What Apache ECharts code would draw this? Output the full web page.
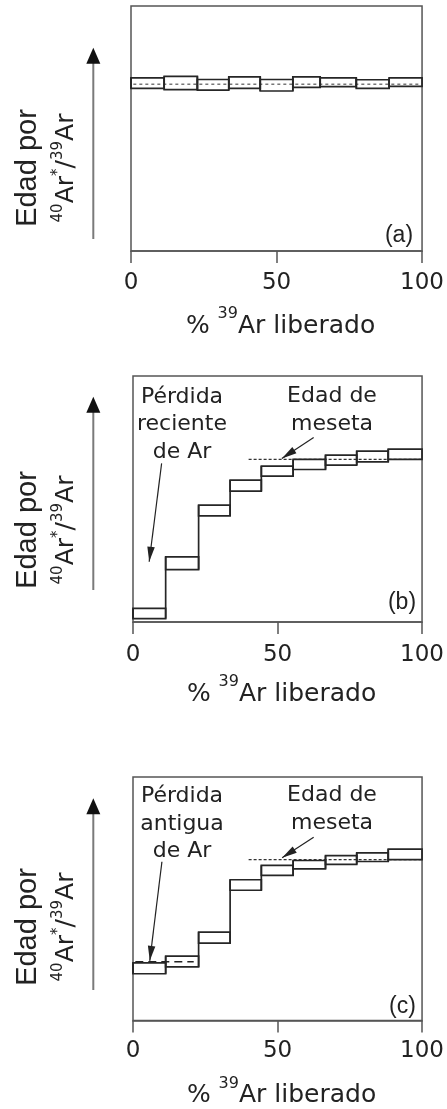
<!DOCTYPE html>
<html><head><meta charset="utf-8">
<script src="https://cdn.jsdelivr.net/npm/echarts/dist/echarts.min.js"></script>
<style>html,body{margin:0;padding:0;background:#fff}#c{width:447px;height:1109px}</style>
</head><body><div id="c"></div>
<script>
// ---- data (y is an arbitrary 0-100 age scale) ----
const edgesA = [0, 11.4, 22.8, 33.6, 44.4, 55.6, 65.0, 77.4, 88.7, 100];
const lowA   = [66.4, 65.9, 65.7, 66.4, 65.3, 66.8, 67.1, 66.4, 67.2];
const highA  = [70.7, 71.3, 70.0, 71.1, 70.0, 71.1, 70.7, 69.9, 70.7];
const plateauA = [[0.8, 68.1], [99.2, 68.1]];

const edgesB = [0, 11.3, 22.7, 33.6, 44.4, 55.4, 66.6, 77.4, 88.3, 100];
const lowB   = [1.4, 21.3, 43.1, 53.2, 59.3, 62.0, 63.8, 65.1, 66.1];
const highB  = [5.5, 26.5, 47.5, 57.7, 63.4, 66.1, 67.8, 69.5, 70.3];
const plateauB = [[40, 66.1], [100, 66.1]];

const edgesC = [0, 11.3, 22.7, 33.6, 44.4, 55.4, 66.6, 77.4, 88.3, 100];
const lowC   = [19.2, 22.0, 31.8, 53.5, 59.6, 62.3, 64.1, 65.3, 66.1];
const highC  = [23.7, 26.4, 36.3, 57.8, 63.7, 65.7, 67.7, 68.8, 70.4];
const plateauC = [[40, 66.1], [100, 66.1]];
const oldLossC = [[0.8, 24.1], [21, 24.1]];

const xMin = 0, xMax = 100, xStep = 50;
const panelLabels = ['(a)', '(b)', '(c)'];
const xTitle = '{m|% }{s|39}{m|Ar liberado}';
const yTitle1 = 'Edad por';
const yTitle2 = '{s|40}{m|Ar}{s|*}{m|/}{s|39}{m|Ar}';
const noteLossB = 'Pérdida\nreciente\nde Ar';
const noteLossC = 'Pérdida\nantigua\nde Ar';
const notePlateau = 'Edad de\nmeseta';

// each item: [x0, x1, low, high, prevLow, prevHigh]
function boxes(edges, low, high) {
  return low.map((v, i) => [edges[i], edges[i + 1], v, high[i],
    i > 0 ? low[i - 1] : v, i > 0 ? high[i - 1] : high[i]]);
}

function renderBox(params, api) {
  const x0 = api.value(0), x1 = api.value(1), lo = api.value(2), hi = api.value(3);
  const plo = api.value(4), phi = api.value(5);
  const p0 = api.coord([x0, hi]);
  const p1 = api.coord([x1, lo]);
  const s = { fill: 'none', stroke: '#262626', lineWidth: 1.7 };
  const children = [
    { type: 'rect', shape: { x: p0[0], y: p0[1], width: p1[0] - p0[0], height: p1[1] - p0[1] }, style: s }
  ];
  // vertical step joining this box to the previous one
  const a = api.coord([x0, Math.max(hi, phi)]);
  const b = api.coord([x0, Math.min(lo, plo)]);
  children.push({ type: 'line', shape: { x1: a[0], y1: a[1], x2: b[0], y2: b[1] }, style: { stroke: '#262626', lineWidth: 1.7 } });
  return { type: 'group', children: children };
}

const grids = [
  { left: 131, top: 6, width: 292, height: 245 },
  { left: 133, top: 376, width: 291, height: 246 },
  { left: 133, top: 777, width: 291, height: 246 }
];
const labelMargins = [21, 22, 19];
const nameGaps = [55, 52, 55];

const chart = echarts.init(document.getElementById('c'), null, { renderer: 'canvas' });

const textColor = '#222';
const richX = {
  m: { fontFamily: 'DejaVu Sans', fontSize: 25, lineHeight: 40, color: textColor, verticalAlign: 'middle' },
  s: { fontFamily: 'DejaVu Sans', fontSize: 16, lineHeight: 12, color: textColor, verticalAlign: 'top' }
};
const arrowHead = 'path://M0,0 M24,24 M12,12 L15,24 L9,24 Z';

const option = {
  animation: false,
  backgroundColor: '#fff',
  grid: grids.map(g => Object.assign({ show: true, borderColor: '#555', borderWidth: 1.5, backgroundColor: 'transparent' }, g)),
  xAxis: grids.map((g, i) => ({
    gridIndex: i, type: 'value', min: xMin, max: xMax, interval: xStep,
    splitLine: { show: false },
    axisLine: { show: true, lineStyle: { color: '#555', width: 1.5 } },
    axisTick: { show: true, length: 12, lineStyle: { color: '#555', width: 1.5 } },
    axisLabel: { margin: labelMargins[i], fontFamily: 'DejaVu Sans', fontSize: 23, color: textColor },
    name: xTitle, nameLocation: 'middle', nameGap: nameGaps[i],
    nameTextStyle: { padding: [0, 0, 0, 8], rich: richX }
  })),
  yAxis: grids.map((g, i) => ({ gridIndex: i, type: 'value', min: 0, max: 100, show: false })),
  series: [
    { type: 'custom', xAxisIndex: 0, yAxisIndex: 0, renderItem: renderBox, data: boxes(edgesA, lowA, highA), z: 3 },
    { type: 'custom', xAxisIndex: 1, yAxisIndex: 1, renderItem: renderBox, data: boxes(edgesB, lowB, highB), z: 3 },
    { type: 'custom', xAxisIndex: 2, yAxisIndex: 2, renderItem: renderBox, data: boxes(edgesC, lowC, highC), z: 3 },
    { type: 'line', xAxisIndex: 0, yAxisIndex: 0, data: plateauA, symbol: 'none', silent: true,
      lineStyle: { color: '#777', width: 1.5, type: [3, 3] }, z: 2 },
    { type: 'line', xAxisIndex: 1, yAxisIndex: 1, data: plateauB, symbol: 'none', silent: true,
      lineStyle: { color: '#333', width: 1.2, type: [3, 2] }, z: 2 },
    { type: 'line', xAxisIndex: 2, yAxisIndex: 2, data: plateauC, symbol: 'none', silent: true,
      lineStyle: { color: '#333', width: 1.2, type: [3, 2] }, z: 2 },
    { type: 'line', xAxisIndex: 2, yAxisIndex: 2, data: oldLossC, symbol: 'none', silent: true,
      lineStyle: { color: '#222', width: 1.5, type: [8, 5] }, z: 2 },
    { type: 'lines', coordinateSystem: 'cartesian2d', xAxisIndex: 1, yAxisIndex: 1, silent: true,
      symbol: ['none', arrowHead], symbolSize: 30, z: 5,
      lineStyle: { color: '#222', width: 1.2, opacity: 1, curveness: 0 },
      data: [{ coords: [[9.9, 64.5], [5.6, 24.5]] }, { coords: [[62.5, 75.0], [51.5, 66.5]] }] },
    { type: 'lines', coordinateSystem: 'cartesian2d', xAxisIndex: 2, yAxisIndex: 2, silent: true,
      symbol: ['none', arrowHead], symbolSize: 30, z: 5,
      lineStyle: { color: '#222', width: 1.2, opacity: 1, curveness: 0 },
      data: [{ coords: [[10.0, 65.2], [5.8, 24.5]] }, { coords: [[62.5, 75.3], [51.6, 66.8]] }] }
  ],
  graphic: []
};

// decorations: y titles, arrows, panel letters, notes
const yArrow = [ { tip: 47.7, bottom: 239 }, { tip: 396.7, bottom: 590 }, { tip: 798.3, bottom: 990 } ];
const yTitleY = [168, 530, 927];
const letterPos = [[399, 236], [402, 603], [402.5, 1007]];
const arrowX = 93.3;
const g = option.graphic;
for (let i = 0; i < 3; i++) {
  g.push({ type: 'line', silent: true, shape: { x1: arrowX, y1: yArrow[i].tip + 12, x2: arrowX, y2: yArrow[i].bottom },
           style: { stroke: '#7a7a7a', lineWidth: 2 } });
  g.push({ type: 'polygon', silent: true,
           shape: { points: [[arrowX, yArrow[i].tip], [arrowX - 7, yArrow[i].tip + 16], [arrowX + 7, yArrow[i].tip + 16]] },
           style: { fill: '#111' } });
  g.push({ type: 'text', silent: true, x: 28, y: yTitleY[i], rotation: Math.PI / 2,
           style: { text: yTitle1, font: '29px "Liberation Sans"', fill: textColor,
                    align: 'center', verticalAlign: 'middle', textAlign: 'center', textVerticalAlign: 'middle' } });
  g.push({ type: 'text', silent: true, x: 66, y: yTitleY[i], rotation: Math.PI / 2,
           style: { text: yTitle2, fill: textColor,
                    rich: { m: { fontFamily: 'DejaVu Sans', fontSize: 25, lineHeight: 30, fill: textColor, verticalAlign: 'middle' },
                            s: { fontFamily: 'DejaVu Sans', fontSize: 15, lineHeight: 12, fill: textColor, verticalAlign: 'top' } },
                    align: 'center', verticalAlign: 'middle', textAlign: 'center', textVerticalAlign: 'middle' } });
  g.push({ type: 'text', silent: true, x: letterPos[i][0], y: letterPos[i][1],
           style: { text: panelLabels[i], font: '23px "Liberation Sans"', fill: textColor,
                    align: 'center', verticalAlign: 'middle', textAlign: 'center', textVerticalAlign: 'middle' } });
}
const notes = [
  [noteLossB, 182, 424.5], [notePlateau, 332, 410.5],
  [noteLossC, 182, 824], [notePlateau, 332, 809.5]
];
notes.forEach(n => g.push({ type: 'text', silent: true, x: n[1], y: n[2],
  style: { text: n[0], font: '22px "DejaVu Sans"', fill: textColor, lineHeight: 27.5,
           align: 'center', verticalAlign: 'middle', textAlign: 'center', textVerticalAlign: 'middle' } }));

chart.setOption(option);
</script></body></html>
